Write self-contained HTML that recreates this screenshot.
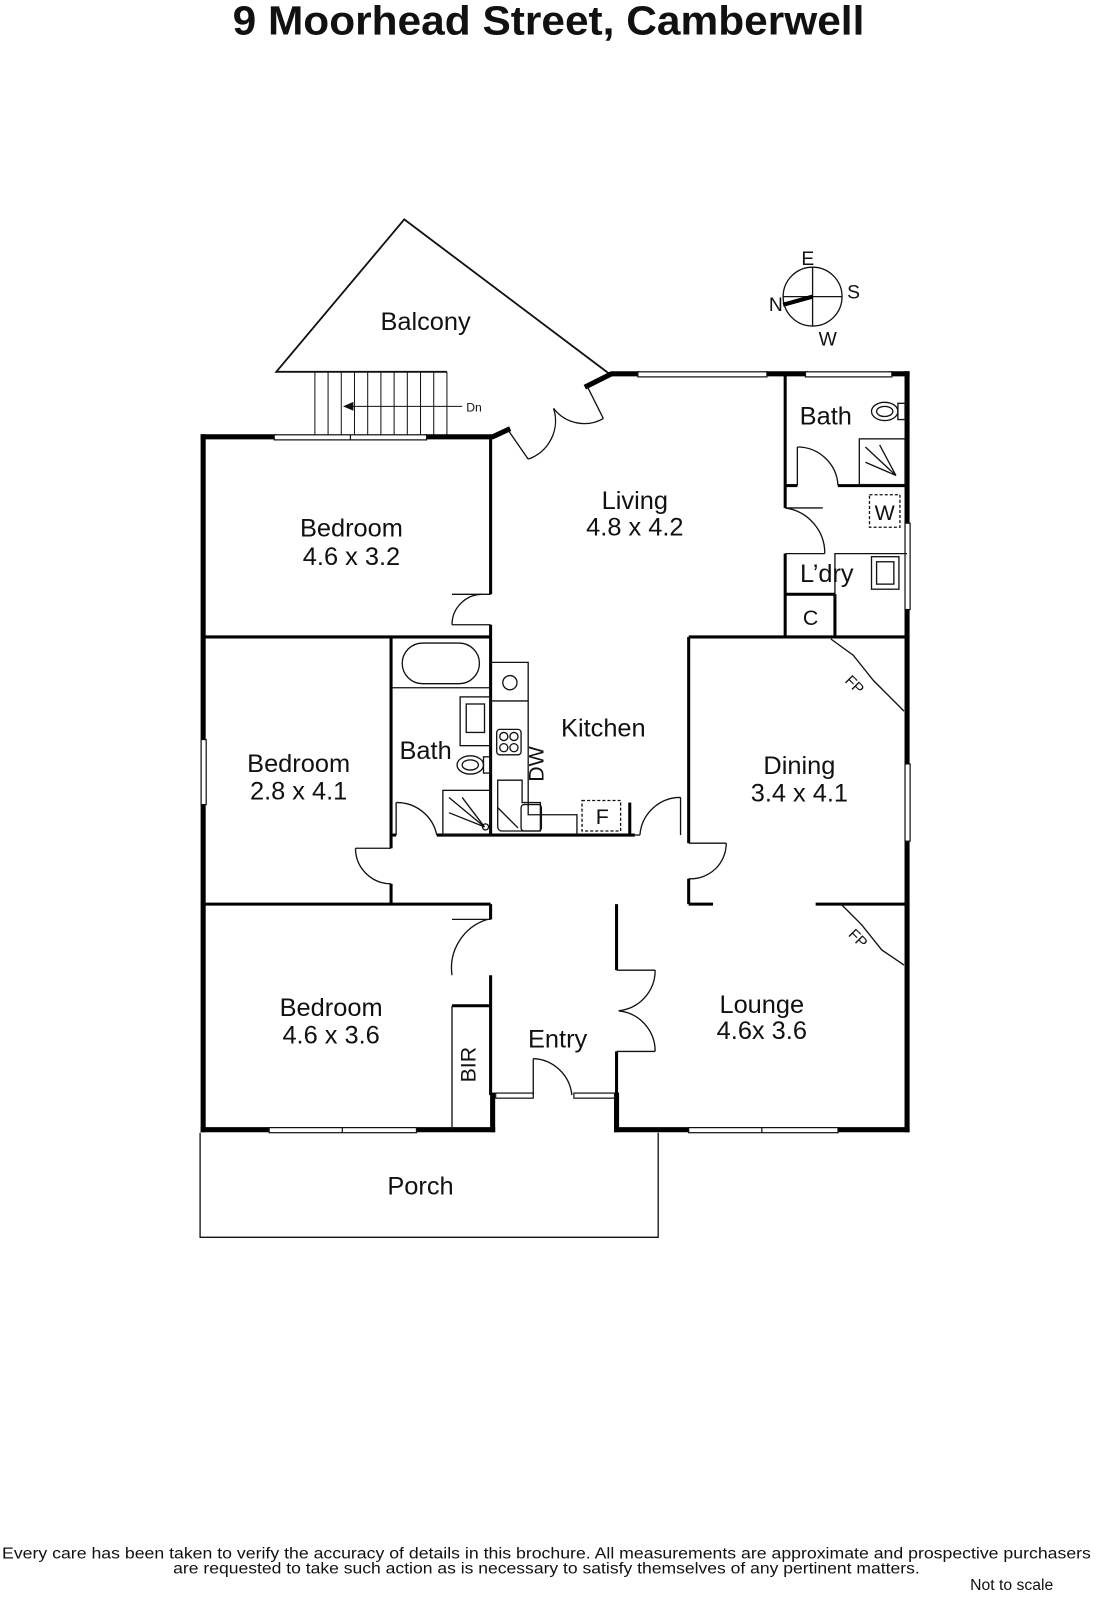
<!DOCTYPE html>
<html><head><style>
body{margin:0;background:#fff;width:1097px;height:1600px;overflow:hidden}
svg{display:block}
text{font-family:"Liberation Sans",sans-serif;fill:#111}
</style></head><body>
<svg width="1097" height="1600" viewBox="0 0 1080 1575" preserveAspectRatio="none">
<text x="540" y="34" font-size="40" font-weight="bold" text-anchor="middle" textLength="622" lengthAdjust="spacingAndGlyphs">9 Moorhead Street, Camberwell</text>

<!-- balcony -->
<g fill="none" stroke="#111" stroke-width="1.8">
<polyline points="440,366 272,366 398,216 600,368"/>
<g stroke-width="1">
<line x1="310" y1="366" x2="310" y2="430"/><line x1="323" y1="366" x2="323" y2="430"/><line x1="336" y1="366" x2="336" y2="430"/><line x1="349" y1="366" x2="349" y2="430"/><line x1="362" y1="366" x2="362" y2="430"/><line x1="375" y1="366" x2="375" y2="430"/><line x1="388" y1="366" x2="388" y2="430"/><line x1="401" y1="366" x2="401" y2="430"/><line x1="414" y1="366" x2="414" y2="430"/><line x1="427" y1="366" x2="427" y2="430"/><line x1="440" y1="366" x2="440" y2="430"/>
<line x1="345" y1="400" x2="455" y2="400"/>
</g>
<polygon points="340,400 347,397 347,403" fill="#111"/>
</g>
<text x="459" y="405" font-size="12">Dn</text>

<!-- outer walls -->
<g fill="none" stroke="#000" stroke-width="5" stroke-linecap="square">
<line x1="200" y1="430" x2="200" y2="728"/><line x1="200" y1="792" x2="200" y2="1112"/>
<line x1="200" y1="430" x2="270" y2="430"/><polyline points="420,430 485,430 500,423"/>
<polyline points="578,380 602,368 628,368"/>
<line x1="755" y1="368" x2="793" y2="368"/><line x1="878" y1="368" x2="893" y2="368"/>
<line x1="893" y1="368" x2="893" y2="515"/><line x1="893" y1="600" x2="893" y2="752"/><line x1="893" y1="828" x2="893" y2="1112"/>
<line x1="200" y1="1112" x2="265" y2="1112"/><line x1="410" y1="1112" x2="485" y2="1112"/>
<line x1="485" y1="1078" x2="485" y2="1112"/><line x1="607" y1="1078" x2="607" y2="1112"/>
<line x1="607" y1="1112" x2="678" y2="1112"/><line x1="825" y1="1112" x2="893" y2="1112"/>
</g>
<!-- windows -->
<g fill="#fff" stroke="#111" stroke-width="1.2">
<rect x="270" y="428" width="150" height="5"/><line x1="345" y1="428" x2="345" y2="433"/>
<rect x="628" y="366" width="127" height="5"/><rect x="793" y="366" width="85" height="5"/>
<rect x="891" y="515" width="5" height="85"/><rect x="891" y="752" width="5" height="76"/>
<rect x="198" y="728" width="5" height="64"/>
<rect x="265" y="1110" width="145" height="5"/><line x1="337" y1="1110" x2="337" y2="1115"/>
<rect x="678" y="1110" width="147" height="5"/><line x1="750" y1="1110" x2="750" y2="1115"/>
<rect x="488" y="1076" width="37" height="5"/><rect x="565" y="1076" width="40" height="5"/>
</g>
<!-- interior walls -->
<g fill="none" stroke="#000" stroke-width="3">
<line x1="483" y1="430" x2="483" y2="585"/><line x1="483" y1="615" x2="483" y2="822"/>
<line x1="200" y1="627" x2="483" y2="627"/>
<line x1="385" y1="627" x2="385" y2="835"/><line x1="385" y1="870" x2="385" y2="890"/>
<line x1="385" y1="822" x2="390" y2="822"/><line x1="430" y1="822" x2="625" y2="822"/>
<line x1="620" y1="790" x2="620" y2="822"/>
<line x1="678" y1="627" x2="678" y2="830"/><line x1="678" y1="865" x2="678" y2="890"/>
<line x1="678" y1="627" x2="893" y2="627"/>
<line x1="200" y1="890" x2="483" y2="890"/>
<line x1="678" y1="890" x2="702" y2="890"/><line x1="803" y1="890" x2="893" y2="890"/>
<line x1="483" y1="890" x2="483" y2="905"/><line x1="483" y1="960" x2="483" y2="1078"/>
<line x1="445" y1="990" x2="483" y2="990"/>
<line x1="607" y1="890" x2="607" y2="955"/><line x1="607" y1="1035" x2="607" y2="1078"/>
<line x1="773" y1="368" x2="773" y2="478"/><line x1="773" y1="478" x2="785" y2="478"/><line x1="825" y1="478" x2="893" y2="478"/>
<line x1="773" y1="478" x2="773" y2="500"/><line x1="773" y1="545" x2="773" y2="627"/>
<line x1="773" y1="585" x2="822" y2="585"/><line x1="822" y1="585" x2="822" y2="627"/>
</g>
<!-- thin lines, doors -->
<g fill="none" stroke="#111" stroke-width="1.3">
<line x1="445" y1="990" x2="445" y2="1112"/>
<line x1="500" y1="423" x2="520" y2="452"/><path d="M520,452 A40,40 0 0 0 545,402"/>
<line x1="578" y1="380" x2="594" y2="412"/><path d="M594,412 A38,38 0 0 1 545,402"/>
<line x1="483" y1="585" x2="445" y2="585"/><path d="M445,615 A30,30 0 0 1 475,585"/><line x1="445" y1="615" x2="483" y2="615"/>
<line x1="390" y1="822" x2="390" y2="790"/><path d="M390,790 A40,40 0 0 1 430,822"/>
<line x1="385" y1="835" x2="350" y2="835"/><path d="M350,835 A35,35 0 0 0 385,870"/>
<line x1="678" y1="830" x2="715" y2="830"/><path d="M715,830 A35,35 0 0 1 678,865"/>
<line x1="625" y1="822" x2="630" y2="822"/><path d="M630,822 A40,40 0 0 1 670,785"/><line x1="670" y1="785" x2="670" y2="822"/>
<line x1="483" y1="905" x2="445" y2="905"/><path d="M445,960 A50,50 0 0 1 480,905"/>
<line x1="607" y1="955" x2="645" y2="955"/><path d="M645,955 A40,40 0 0 1 609,995 A40,40 0 0 1 645,1035"/><line x1="607" y1="1035" x2="645" y2="1035"/>
<line x1="525" y1="1078" x2="525" y2="1042"/><path d="M525,1042 A40,40 0 0 1 563,1078"/>
<line x1="785" y1="478" x2="785" y2="440"/><path d="M785,440 A40,40 0 0 1 825,478"/>
<line x1="773" y1="500" x2="810" y2="500"/><path d="M773,500 A45,45 0 0 1 812,545"/><line x1="773" y1="545" x2="812" y2="545"/>
<!-- laundry bench -->
<polyline points="822,590 822,545 893,545"/>
<rect x="858" y="548" width="27" height="32"/><rect x="863" y="553" width="17" height="22"/>
<rect x="856" y="487" width="30" height="32" stroke-dasharray="3,2"/>
<!-- upper bath -->
<rect x="846" y="432" width="45" height="45"/>
<line x1="852" y1="440" x2="882" y2="468"/><line x1="852" y1="455" x2="882" y2="468"/><line x1="866" y1="438" x2="882" y2="468"/>
<ellipse cx="871" cy="405" rx="13" ry="9"/><ellipse cx="871" cy="405" rx="8" ry="5"/><rect x="884" y="397" width="7" height="16"/>
<!-- FP -->
<polyline points="818,629 840,645 860,670 890,700"/>
<polyline points="828,890 848,910 868,935 890,950"/>
<!-- bath 2 -->
<line x1="385" y1="677" x2="483" y2="677"/>
<rect x="396" y="633" width="76" height="40" rx="20"/>
<rect x="453" y="686" width="30" height="48"/><rect x="459" y="693" width="18" height="28"/>
<ellipse cx="463" cy="753" rx="13" ry="9"/><ellipse cx="463" cy="753" rx="8" ry="5"/><rect x="476" y="745" width="7" height="16"/>
<rect x="436" y="778" width="47" height="44"/>
<line x1="442" y1="785" x2="477" y2="814"/><line x1="442" y1="800" x2="477" y2="814"/><line x1="455" y1="785" x2="477" y2="814"/>
<circle cx="478" cy="814" r="3"/>
<!-- kitchen bench -->
<polyline points="483,652 520,652 520,802 568,802 568,822"/>
<line x1="483" y1="690" x2="520" y2="690"/>
<circle cx="502" cy="672" r="7"/>
<rect x="489" y="718" width="24" height="25" rx="3"/>
<circle cx="496" cy="725" r="4"/><circle cx="506" cy="725" r="4"/><circle cx="496" cy="736" r="4"/><circle cx="506" cy="736" r="4"/>
<path d="M490,768 h24 v22 h18 v28 h-38 a4,4 0 0 1 -4,-4 z"/>
<rect x="513" y="792" width="20" height="26" rx="3"/>
<line x1="490" y1="795" x2="510" y2="815"/>
<rect x="573" y="788" width="38" height="30" stroke-dasharray="3,2"/>
<!-- porch -->
<polyline points="197,1115 197,1218 648,1218 648,1115"/>
<!-- compass -->
<circle cx="800" cy="292" r="29"/><line x1="800" y1="263" x2="800" y2="321"/><line x1="771" y1="292" x2="829" y2="292"/>
</g>
<line x1="771" y1="300" x2="800" y2="292" stroke="#000" stroke-width="4"/>
<g font-size="19">
<text x="789" y="261">E</text><text x="834" y="294">S</text><text x="806" y="340">W</text><text x="757" y="306">N</text>
</g>
<g font-size="15" fill="#111">
<text x="838" y="682" transform="rotate(45 848 668)">FP</text>
<text x="838" y="932" transform="rotate(45 850 922)">FP</text>
</g>
<!-- labels -->
<g font-size="25" text-anchor="middle">
<text x="419" y="325">Balcony</text>
<text x="625" y="501">Living</text><text x="625" y="527">4.8 x 4.2</text>
<text x="346" y="528">Bedroom</text><text x="346" y="556">4.6 x 3.2</text>
<text x="294" y="760">Bedroom</text><text x="294" y="787">2.8 x 4.1</text>
<text x="594" y="725">Kitchen</text>
<text x="419" y="747">Bath</text>
<text x="787" y="762">Dining</text><text x="787" y="789">3.4 x 4.1</text>
<text x="326" y="1000">Bedroom</text><text x="326" y="1027">4.6 x 3.6</text>
<text x="549" y="1031">Entry</text>
<text x="750" y="997">Lounge</text><text x="750" y="1023">4.6x 3.6</text>
<text x="414" y="1176">Porch</text>
<text x="813" y="418">Bath</text>
<text x="814" y="573">L’dry</text>
<text x="798" y="615" font-size="21">C</text>
<text x="871" y="512" font-size="21">W</text>
<text x="593" y="811" font-size="21">F</text>
</g>
<text x="540" y="752" font-size="21" transform="rotate(-90 540 752)" text-anchor="middle" dy="-5">DW</text>
<text x="460" y="1048" font-size="21" transform="rotate(-90 460 1048)" text-anchor="middle" dy="8">BIR</text>
<g font-size="15.5" text-anchor="middle">
<text x="538" y="1534" textLength="1072" lengthAdjust="spacingAndGlyphs">Every care has been taken to verify the accuracy of details in this brochure.  All measurements are approximate and prospective purchasers</text>
<text x="538" y="1549" textLength="735" lengthAdjust="spacingAndGlyphs">are requested to take such action as is necessary to satisfy themselves of any pertinent matters.</text>
<text x="996" y="1565">Not to scale</text>
</g>
</svg>
</body></html>
